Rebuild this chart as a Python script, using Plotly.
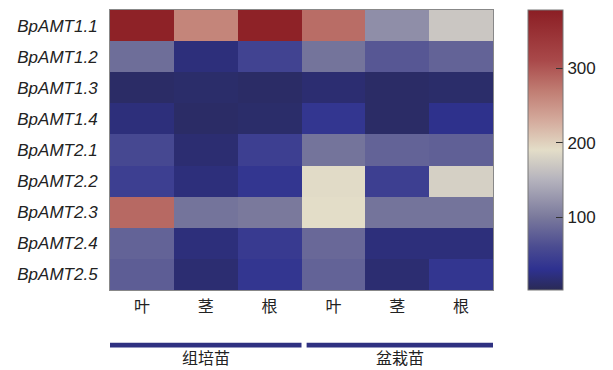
import plotly.graph_objects as go

genes = ["BpAMT1.1", "BpAMT1.2", "BpAMT1.3", "BpAMT1.4", "BpAMT2.1",
         "BpAMT2.2", "BpAMT2.3", "BpAMT2.4", "BpAMT2.5"]
tissues = ["叶", "茎", "根", "叶", "茎", "根"]
groups = ["组培苗", "盆栽苗"]

# columns: 组培苗 叶/茎/根, 盆栽苗 叶/茎/根
values = [
    [372, 262, 372, 282, 118, 168],
    [90, 20, 50, 95, 70, 80],
    [10, 12, 10, 15, 10, 12],
    [20, 10, 12, 35, 10, 28],
    [55, 15, 45, 95, 80, 78],
    [45, 20, 35, 188, 45, 178],
    [285, 95, 100, 190, 95, 95],
    [80, 20, 40, 85, 20, 20],
    [75, 15, 35, 80, 15, 35],
]
zmin, zmax = 2, 378
cbar_ticks = [100, 200, 300]

colorscale = [
    [0.0, "#2a2a55"],
    [0.074, "#2e3190"],
    [0.154, "#4b4c91"],
    [0.26, "#7a799c"],
    [0.394, "#b5b3bd"],
    [0.5, "#e3ddc8"],
    [0.606, "#d4aa9c"],
    [0.713, "#c07c72"],
    [0.819, "#a9494a"],
    [1.0, "#8b1e24"],
]

xs = list(range(len(tissues)))

fig = go.Figure(go.Heatmap(
    z=values, x=xs, y=genes,
    zmin=zmin, zmax=zmax, colorscale=colorscale,
    xgap=0, ygap=0,
    colorbar=dict(
        thickness=35, thicknessmode="pixels",
        len=280, lenmode="pixels",
        x=1.091, xanchor="left", xref="paper",
        y=0.5, yanchor="middle",
        xpad=0, ypad=0,
        outlinecolor="#777777", outlinewidth=1,
        tickvals=cbar_ticks, ticks="inside", ticklen=7,
        tickcolor="#333333", tickwidth=1,
        tickfont=dict(family="Liberation Sans, Arial", size=17, color="#222222"),
    ),
))

fig.update_xaxes(
    tickvals=xs, ticktext=tissues,
    tickfont=dict(family="Noto Sans CJK SC", size=16, color="#222222"),
    ticks="outside", ticklen=2, tickcolor="rgba(0,0,0,0)",
    showgrid=False, zeroline=False,
    range=[-0.5, 5.5], showline=True, linecolor="#888888", mirror=True,
)
fig.update_yaxes(
    tickvals=genes, ticktext=[f"<i>{g}</i>" for g in genes],
    autorange="reversed",
    tickfont=dict(family="Liberation Sans, Arial", size=17, color="#222222"),
    ticks="", showgrid=False, zeroline=False, ticklabelstandoff=8,
    showline=True, linecolor="#888888", mirror=True,
)

# group bars and labels
group_spans = [(-0.5, 2.5), (2.58, 5.5)]
for (x0, x1), name in zip(group_spans, groups):
    fig.add_shape(type="rect", xref="x", yref="paper",
                  x0=x0, x1=x1, y0=-0.205, y1=-0.188,
                  fillcolor="#2f3181", line_width=0)
    fig.add_annotation(xref="x", yref="paper", x=(x0 + x1) / 2, y=-0.238,
                       text=name, showarrow=False, yanchor="middle",
                       font=dict(family="Noto Sans CJK SC", size=16, color="#222222"))

fig.update_layout(
    width=613, height=370,
    margin=dict(l=110, r=120, t=10, b=80, autoexpand=False),
    paper_bgcolor="white", plot_bgcolor="white",
)

fig.write_html("out.html")
